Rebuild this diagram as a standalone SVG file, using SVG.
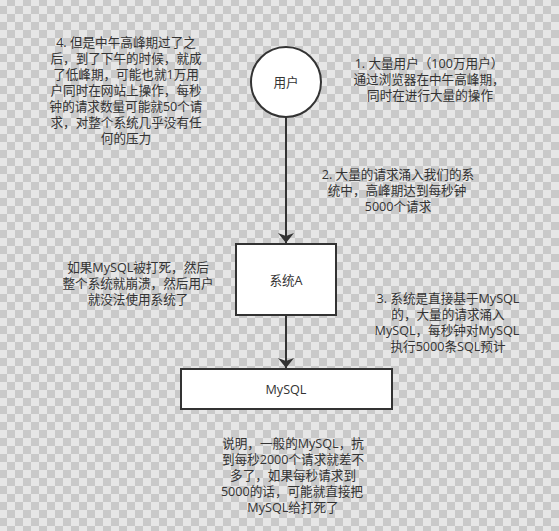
<svg xmlns="http://www.w3.org/2000/svg" width="559" height="531" viewBox="0 0 559 531">
<defs>
<pattern id="checker" x="-1" y="-2" width="16" height="16" patternUnits="userSpaceOnUse">
<rect width="16" height="16" fill="#e6e6e6"/>
<rect x="8" y="0" width="8" height="8" fill="#c9c9c9"/>
<rect x="0" y="8" width="8" height="8" fill="#c9c9c9"/>
</pattern>
<marker id="arrow" viewBox="0 0 10 16" refX="10" refY="8" markerWidth="10" markerHeight="16" markerUnits="userSpaceOnUse" orient="auto">
<path d="M0,0 L10,8 L0,16 L3,8 Z" fill="#333"/>
</marker>
</defs>
<style>
.node{fill:#ffffff;stroke:#333333;stroke-width:2}
.edge{fill:none;stroke:#333333;stroke-width:2}
text{font-family:"Open Sans","Noto Sans CJK SC",sans-serif;font-size:12.6px;fill:#333333;text-anchor:middle;dominant-baseline:central}
</style>
<rect width="559" height="531" fill="url(#checker)"/>
<g id="connectors">
<path class="edge" d="M286,117 L286,243" marker-end="url(#arrow)"/>
<path class="edge" d="M286,315 L286,368" marker-end="url(#arrow)"/>
</g>
<g id="user">
<circle class="node" cx="286" cy="82" r="35"/>
<text x="286" y="82">用户</text>
</g>
<g id="systemA">
<rect class="node" x="236" y="244" width="100" height="71"/>
<text x="286" y="280">系统A</text>
</g>
<g id="mysql">
<rect class="node" x="181" y="369" width="211" height="40"/>
<text x="286" y="389">MySQL</text>
</g>
<g id="note1">
<text><tspan x="429" y="63">1. 大量用户（100万用户）</tspan><tspan x="429" y="79">通过浏览器在中午高峰期，</tspan><tspan x="430" y="95">同时在进行大量的操作</tspan></text>
</g>
<g id="note2">
<text><tspan x="398" y="174">2. 大量的请求涌入我们的系</tspan><tspan x="397" y="190">统中，高峰期达到每秒钟</tspan><tspan x="398" y="206">5000个请求</tspan></text>
</g>
<g id="note3">
<text><tspan x="448" y="298">3. 系统是直接基于MySQL</tspan><tspan x="448" y="314">的，大量的请求涌入</tspan><tspan x="447" y="330">MySQL，每秒钟对MySQL</tspan><tspan x="448" y="346">执行5000条SQL预计</tspan></text>
</g>
<g id="note4">
<text><tspan x="126" y="42">4. 但是中午高峰期过了之</tspan><tspan x="126" y="58">后，到了下午的时候，就成</tspan><tspan x="126" y="74">了低峰期，可能也就1万用</tspan><tspan x="126" y="90">户同时在网站上操作，每秒</tspan><tspan x="126" y="106">钟的请求数量可能就50个请</tspan><tspan x="126" y="122">求，对整个系统几乎没有任</tspan><tspan x="126" y="138">何的压力</tspan></text>
</g>
<g id="note5">
<text><tspan x="138" y="267">如果MySQL被打死，然后</tspan><tspan x="138" y="283">整个系统就崩溃，然后用户</tspan><tspan x="138" y="299">就没法使用系统了</tspan></text>
</g>
<g id="note6">
<text><tspan x="293" y="443">说明，一般的MySQL，抗</tspan><tspan x="293" y="459">到每秒2000个请求就差不</tspan><tspan x="293" y="475">多了，如果每秒请求到</tspan><tspan x="292" y="491">5000的话，可能就直接把</tspan><tspan x="293" y="507">MySQL给打死了</tspan></text>
</g>
</svg>
